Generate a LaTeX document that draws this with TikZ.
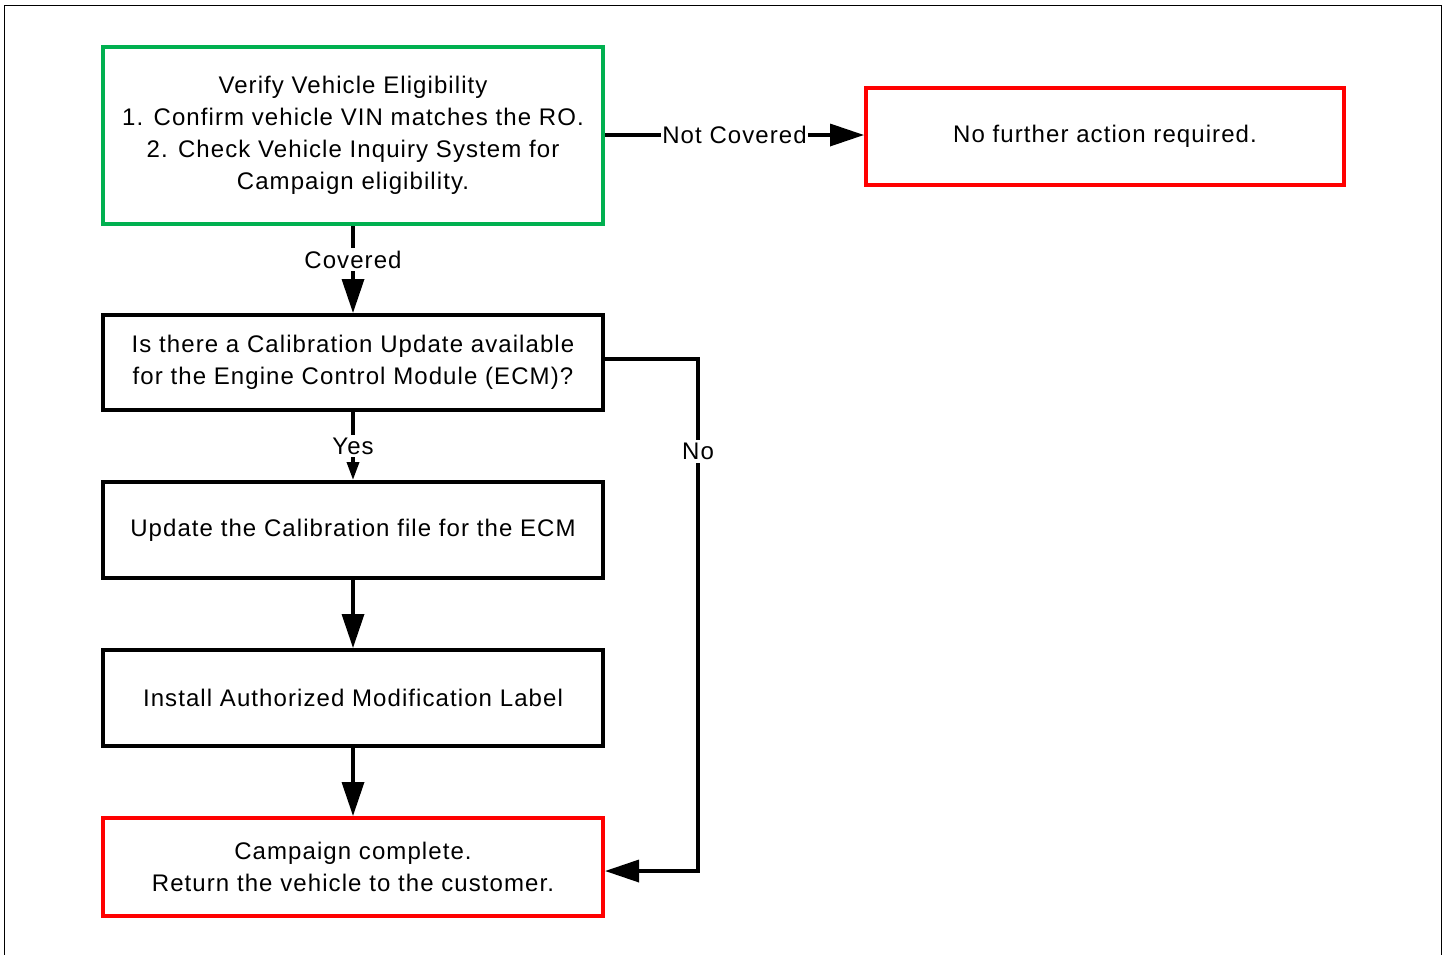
\documentclass[tikz,border=0pt]{standalone}
\usepackage{fontspec}
\setmainfont{Liberation Sans}[LetterSpace=4.5]
\usetikzlibrary{arrows.meta}
\definecolor{boxgreen}{RGB}{0,176,80}
\definecolor{boxred}{RGB}{255,0,0}
\begin{document}
\begin{tikzpicture}[x=1pt,y=-1pt,
  box/.style={draw=black, line width=4pt, minimum width=500pt, align=center,
    font=\fontsize{24}{32}\selectfont, inner sep=0pt},
  conn/.style={line width=3.5pt, -{Triangle[length=34pt,width=22pt]}},
  smallconn/.style={line width=3.5pt, -{Triangle[length=18pt,width=12pt]}},
  lbl/.style={fill=white, font=\fontsize{24}{28}\selectfont, inner xsep=1pt, inner ysep=3pt}]
\useasboundingbox (0,0) rectangle (1445,954);
\draw[line width=1.5pt] (4.5,965) -- (4.5,5.5) -- (1441.5,5.5) -- (1441.5,965);

\node[box, draw=boxgreen, minimum height=177pt] (verify) at (353,135.5)
  {Verify Vehicle Eligibility\\1. Confirm vehicle VIN matches the RO.\\2. Check Vehicle Inquiry System for\\Campaign eligibility.};
\node[box, draw=boxred, minimum width=478pt, minimum height=97pt] (nofurther) at (1105,136.5)
  {No further action required.};
\node[box, minimum height=95pt] (calib) at (353,362.5)
  {Is there a Calibration Update available\\for the Engine Control Module (ECM)?};
\node[box, minimum height=96pt] (update) at (353,530)
  {Update the Calibration file for the ECM};
\node[box, minimum height=96pt] (label) at (353,698)
  {Install Authorized Modification Label};
\node[box, draw=boxred, minimum height=98pt] (complete) at (353,867)
  {Campaign complete.\\Return the vehicle to the customer.};

\coordinate (nctop) at (604,135);
\coordinate (nocorner) at (698,359);
\coordinate (nobottom) at (698,871);

\draw[conn] (verify.south) -- node[lbl, pos=0.385] {Covered} (calib.north);
\draw[conn] (verify.east |- nctop) -- node[lbl, midway] {Not Covered} (nofurther.west |- nctop);
\draw[smallconn] (calib.south) -- node[lbl, midway] {Yes} (update.north);
\draw[conn] (update.south) -- (label.north);
\draw[conn] (label.south) -- (complete.north);
\draw[conn, line join=miter] (calib.east |- nocorner) -- (nocorner) -- node[lbl, pos=0.18] {No} (nobottom) -- (complete.east |- nobottom);
\end{tikzpicture}
\end{document}
